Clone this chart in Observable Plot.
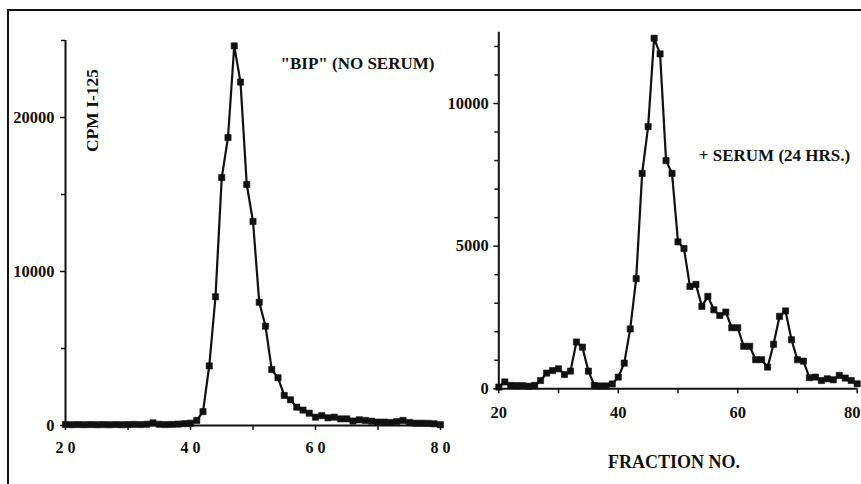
<!DOCTYPE html>
<html><head><meta charset="utf-8">
<script src="https://cdn.jsdelivr.net/npm/d3@7"></script>
<script src="https://cdn.jsdelivr.net/npm/@observablehq/plot@0.6"></script>
<style>
html,body{margin:0;padding:0;background:#fff;}
#wrap{position:relative;width:861px;height:484px;overflow:hidden;background:#fff;}
#frame{position:absolute;left:7px;top:9px;width:900px;height:520px;border-top:2px solid #111;border-left:2px solid #111;}
.panel{position:absolute;top:0;}
</style></head><body>
<div id="wrap"><div id="frame"></div><div id="left" class="panel" style="left:0;width:450px;height:484px"></div><div id="right" class="panel" style="left:430px;width:431px;height:484px"></div></div>
<script>
// Fraction numbers (x categories)
const fractions = [20,21,22,23,24,25,26,27,28,29,30,31,32,33,34,35,36,37,38,39,40,41,42,43,44,45,46,47,48,49,50,51,52,53,54,55,56,57,58,59,60,61,62,63,64,65,66,67,68,69,70,71,72,73,74,75,76,77,78,79,80];
// Left panel: "BIP" (no serum), CPM I-125
const bipNoSerum = [60,50,60,50,60,50,60,50,60,50,60,70,60,80,170,80,60,70,90,120,150,330,900,3870,8360,16100,18700,24650,22300,15650,13250,8000,6450,3630,3100,1950,1670,1190,1000,800,540,640,500,540,430,430,290,370,330,280,220,220,200,250,330,200,150,150,140,110,50];
// Right panel: + serum (24 hrs.)
const serum24 = [60,240,120,110,110,90,120,290,550,640,700,500,620,1640,1460,620,120,100,100,170,410,900,2100,3860,7550,9190,12290,11740,8000,7550,5150,4920,3590,3660,2890,3240,2770,2570,2690,2140,2140,1490,1490,1020,1020,760,1560,2540,2730,1720,1020,970,390,410,290,350,315,470,375,290,175];

// Tick values and labels
const leftYTicks = [0,10000,20000];
const leftYMinor = [5000,15000,25000];
const leftXTicks = [20,40,60,80];
const leftXLabels = ["2 0","4 0","6 0","8 0"];
const xMinor = [30,50,70];
const rightYTicks = [0,5000,10000];
const rightYMinor = [1000,2000,3000,4000,6000,7000,8000,9000,11000,12000];
const rightXTicks = [20,40,60];
const rightXLast = [80];
const rightXLabels = {20:"20", 40:"40", 60:"60", 80:"80"};

const leftTitle = "\"BIP\" (NO SERUM)";
const rightTitle = "+ SERUM (24 HRS.)";
const yLabel = "CPM I-125";
const xLabel = "FRACTION NO.";

const ink = "#111";
const font = "'Liberation Serif', 'Times New Roman', serif";
const baseStyle = {fontFamily:font, fontWeight:"bold", fontSize:"16px", color:ink, background:"transparent", overflow:"visible"};

const leftData = fractions.map((f,i)=>({fraction:f, cpm:bipNoSerum[i]}));
const rightData = fractions.map((f,i)=>({fraction:f, cpm:serum24[i]}));

const left = Plot.plot({
  width:450, height:484,
  marginLeft:65, marginRight:10, marginTop:40, marginBottom:59,
  x:{domain:[20,80], label:null}, y:{domain:[0,25000], label:null},
  style:baseStyle,
  marks:[
    Plot.ruleX([20],{stroke:ink, strokeWidth:2}),
    Plot.ruleY([0],{stroke:ink, strokeWidth:2}),
    Plot.axisY(leftYTicks,{tickSize:5, tickPadding:6, strokeWidth:1.5, tickFormat:d=>String(d), fontSize:16.5}),
    Plot.axisY(leftYMinor,{tickSize:4, strokeWidth:1.5, tickFormat:()=>""}),
    Plot.axisX(leftXTicks,{tickSize:5, tickPadding:11, strokeWidth:1.5, tickFormat:d=>leftXLabels[leftXTicks.indexOf(d)], fontSize:16}),
    Plot.axisX(xMinor,{tickSize:5, strokeWidth:1.5, tickFormat:()=>""}),
    Plot.line(leftData,{x:"fraction", y:"cpm", stroke:ink, strokeWidth:2.2}),
    Plot.dot(leftData,{x:"fraction", y:"cpm", symbol:"square", r:3.5, fill:ink, stroke:ink, strokeWidth:0.6, strokeLinejoin:"round"}),
    Plot.text([leftTitle],{frameAnchor:"top-left", textAnchor:"start", lineAnchor:"middle", dx:215, dy:23, fontSize:17, fontWeight:"bold", fill:ink}),
    Plot.text([yLabel],{frameAnchor:"top-left", textAnchor:"middle", lineAnchor:"middle", dx:27, dy:70, rotate:-90, fontSize:17.5, fontWeight:"bold", fill:ink})
  ]
});
document.getElementById("left").appendChild(left);

const right = Plot.plot({
  width:431, height:484,
  marginLeft:68.3, marginRight:4.3, marginTop:31.7, marginBottom:95.7,
  x:{domain:[20,80], label:null}, y:{domain:[0,12500], label:null},
  style:baseStyle,
  marks:[
    Plot.ruleX([20],{stroke:ink, strokeWidth:2}),
    Plot.ruleY([0],{stroke:ink, strokeWidth:2}),
    Plot.axisY(rightYTicks,{tickSize:5, tickPadding:5, strokeWidth:1.5, tickFormat:d=>String(d), fontSize:16.5}),
    Plot.axisY(rightYMinor,{tickSize:4, strokeWidth:1.5, tickFormat:()=>""}),
    Plot.axisX(rightXTicks,{tickSize:5, tickPadding:12, strokeWidth:1.5, tickFormat:d=>rightXLabels[d], fontSize:16.5}),
    Plot.axisX(xMinor,{tickSize:5, strokeWidth:1.5, tickFormat:()=>""}),
    Plot.axisX(rightXLast,{tickSize:5, strokeWidth:1.5, tickFormat:()=>""}),
    Plot.axisX(rightXLast,{tickSize:0, tickPadding:17, dx:-5, tickFormat:d=>rightXLabels[d], fontSize:16.5}),
    Plot.line(rightData,{x:"fraction", y:"cpm", stroke:ink, strokeWidth:2.2}),
    Plot.dot(rightData,{x:"fraction", y:"cpm", symbol:"square", r:3.5, fill:ink, stroke:ink, strokeWidth:0.6, strokeLinejoin:"round"}),
    Plot.text([rightTitle],{frameAnchor:"top-left", textAnchor:"start", lineAnchor:"middle", dx:200, dy:123, fontSize:17, fontWeight:"bold", fill:ink}),
    Plot.text([xLabel],{frameAnchor:"bottom", textAnchor:"middle", lineAnchor:"middle", dx:-4, dy:73, fontSize:18, fontWeight:"bold", fill:ink})
  ]
});
document.getElementById("right").appendChild(right);
</script>
</body></html>
